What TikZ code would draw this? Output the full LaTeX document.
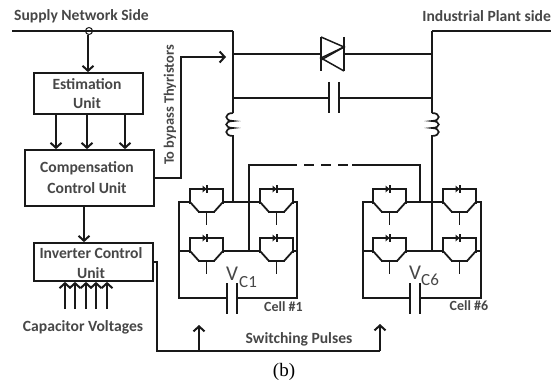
\documentclass[tikz,border=0pt]{standalone}
\usepackage{fontspec}
\setmainfont{Carlito}
\newfontfamily\serifcap{Liberation Serif}
\usetikzlibrary{arrows.meta}
\definecolor{wire}{gray}{0.1}
\definecolor{lab}{gray}{0.28}
\tikzset{
  x=1pt,y=-1pt,
  wireline/.style={draw=wire,line width=1.7pt,line join=miter},
  bus/.style={wireline,line width=2.2pt},
  arr/.style={wireline,line width=1.9pt,-{Straight Barb[length=5pt,width=11pt,line width=2pt]}},
  blockbox/.style={draw=wire,line width=1.7pt,fill=white,minimum width=0pt,inner sep=0pt},
  lbl/.style={text=lab,font=\bfseries\fontsize{15.6}{17}\selectfont,inner sep=0pt},
  small/.style={text=lab,font=\bfseries\fontsize{14}{16}\selectfont,inner sep=0pt},
  blk/.style={text=lab,font=\bfseries\fontsize{15.6}{17}\selectfont,inner sep=0pt},
  igbtunit/.pic={
    \draw[wireline,line width=1.6pt] (0,2) -- (0,-13) -- (33,-13) -- (33,2);
    \draw[wireline,line width=1.8pt] (0,0) -- (9,10);
    \draw[wireline,line width=1.8pt] (33,0) -- (24,10);
    \draw[wireline,line width=2.6pt] (8,10) -- (25,10);
    \draw[wireline,line width=1.6pt] (16.5,10) -- (16.5,23);
    \fill[wire] (12.5,-16.5) -- (16.5,-13) -- (12.5,-9.5) -- cycle;
    \draw[wireline,line width=1.5pt] (17,-17) -- (17,-9);
  }
}
\begin{document}
\begin{tikzpicture}
\useasboundingbox (0,0) rectangle (551,385);

% named anchors
\coordinate (busL) at (12,31);
\coordinate (jL) at (233,31);
\coordinate (jR) at (432,31);
\coordinate (busR) at (551,31);
\coordinate (thyL) at (233,54);
\coordinate (thyR) at (432,54);
\coordinate (capL) at (233,98);
\coordinate (capR) at (432,98);
\coordinate (coilLt) at (233,113);
\coordinate (coilLb) at (233,138);
\coordinate (coilRt) at (432,113);
\coordinate (coilRb) at (432,138);
\coordinate (thyE) at (226,57);

% buses
\draw[bus] (busL) -- (jL);
\draw[wireline] (jL) -- (coilLt);
\draw[bus] (busR) -- (jR);
\draw[wireline] (jR) -- (coilRt);

% thyristor pair
\draw[wireline] (thyL) -- (321,54);
\draw[wireline] (344,54) -- (thyR);
\draw[wireline,line width=1.5pt] (321,37) -- (321,71);
\draw[wireline,line width=1.5pt] (344,37) -- (344,71);
\draw[wireline,line width=1.5pt] (321,37) -- (344,47) -- (321,60);
\draw[wireline,line width=1.5pt] (344,71) -- (321,58) -- (344,47);

% series capacitor
\draw[wireline] (capL) -- (329,98);
\draw[wireline] (339,98) -- (capR);
\draw[wireline] (329,82) -- (329,113);
\draw[wireline] (339,82) -- (339,113);

% coils
\draw[wireline] (coilLt) .. controls (224,113) and (224,121) .. (233,121)
  .. controls (224,121) and (224,128) .. (233,128)
  .. controls (224,128) and (224,136) .. (233,136) -- (coilLb) -- (233,202);
\draw[wireline] (coilRt) .. controls (441,113) and (441,121) .. (432,121)
  .. controls (441,121) and (441,128) .. (432,128)
  .. controls (441,128) and (441,136) .. (432,136) -- (coilRb) -- (432,251);

% cell link
\draw[wireline] (249,251) -- (249,165) -- (287,165);
\draw[wireline,dash pattern=on 10pt off 7pt] (287,165) -- (352,165);
\draw[wireline] (352,165) -- (420,165) -- (420,202);

% cell 1
\draw[wireline] (190,202) -- (179,202) -- (179,298) -- (227,298);
\draw[wireline] (237,298) -- (297,298) -- (297,202) -- (293,202);
\draw[wireline] (223,202) -- (260,202);
\draw[wireline] (179,251) -- (190,251);
\draw[wireline] (223,251) -- (260,251);
\draw[wireline] (293,251) -- (297,251);
\pic at (190,202) {igbtunit};
\pic at (260,202) {igbtunit};
\pic at (190,251) {igbtunit};
\pic at (260,251) {igbtunit};
\draw[wireline] (227,283) -- (227,314);
\draw[wireline] (237,283) -- (237,314);

% cell 6
\draw[wireline] (373,202) -- (363,202) -- (363,298) -- (410,298);
\draw[wireline] (420,298) -- (481,298) -- (481,202) -- (476,202);
\draw[wireline] (406,202) -- (443,202);
\draw[wireline] (363,251) -- (373,251);
\draw[wireline] (406,251) -- (443,251);
\draw[wireline] (476,251) -- (481,251);
\pic at (373,202) {igbtunit};
\pic at (443,202) {igbtunit};
\pic at (373,251) {igbtunit};
\pic at (443,251) {igbtunit};
\draw[wireline,line width=2.6pt] (410,283) -- (410,314);
\draw[wireline] (420,283) -- (420,314);

% blocks
\node[blockbox,minimum width=109pt,minimum height=41pt] (est) at (88.5,93.5) {};
\node[blockbox,minimum width=129pt,minimum height=56pt] (comp) at (89.5,178) {};
\node[blockbox,minimum width=119pt,minimum height=38pt] (inv) at (93.5,262) {};
\node[blk] at (87,84) {Estimation};
\node[blk] at (87,103) {Unit};
\node[blk] at (87,168) {Compensation};
\node[blk] at (87,188) {Control Unit};
\node[blk] at (91,253) {Inverter Control};
\node[blk] at (91,273) {Unit};

% sensing point and arrows
\node[draw=wire,line width=1pt,circle,minimum size=7pt,inner sep=0pt] (sense) at (89,31) {};
\draw[arr] (sense.south) ++(-1,0) coordinate (senseS) -- (senseS |- est.north);
\foreach \xx/\nn in {56/a,87/b,125/c}{
  \coordinate (e\nn) at (\xx,114);
  \draw[arr] (e\nn) -- (e\nn |- comp.north);
}
\coordinate (cS) at (84,206);
\draw[arr] (cS) -- (cS |- inv.north);
\foreach \xx/\nn in {65/a,75/b,86/c,96/d,107/e}{
  \coordinate (v\nn) at (\xx,309);
  \draw[arr] (v\nn) -- (v\nn |- inv.south);
}
\coordinate (cE) at (comp.east |- 0,178);
\draw[arr] (cE) -- (181,178) -- (181,57) -- (thyE);
\coordinate (iE) at (inv.east);
\coordinate (sw) at (199,351);
\draw[wireline,line cap=butt] (iE) -- (157,262) -- (157,351) -- (380,351);
\draw[arr] (380,351) -- (380,324);
\draw[arr] (sw) -- (199,325);

% labels
\node[lbl,anchor=west] at (14,16) {Supply Network Side};
\node[lbl,anchor=east] at (551,16) {Industrial Plant side};
\node[lbl,rotate=90,font=\bfseries\fontsize{14.4}{16}\selectfont] at (170,105) {To bypass Thyristors};
\node[lbl] at (83,327) {Capacitor Voltages};
\node[lbl] at (299,339) {Switching Pulses};
\node[small] at (283.5,307) {Cell \#1};
\node[small] at (469,306) {Cell \#6};
\node[text=lab,font=\fontsize{21}{23}\selectfont,inner sep=0pt,anchor=base west] at (226,280) {V};
\node[text=lab,font=\fontsize{17}{19}\selectfont,inner sep=0pt,anchor=base west] at (239,287) {C1};
\node[text=lab,font=\fontsize{21}{23}\selectfont,inner sep=0pt,anchor=base west] at (409,279) {V};
\node[text=lab,font=\fontsize{17}{19}\selectfont,inner sep=0pt,anchor=base west] at (421,285) {C6};
\node[font=\serifcap\fontsize{19}{21}\selectfont,inner sep=0pt] at (284,372) {(b)};
\end{tikzpicture}
\end{document}
